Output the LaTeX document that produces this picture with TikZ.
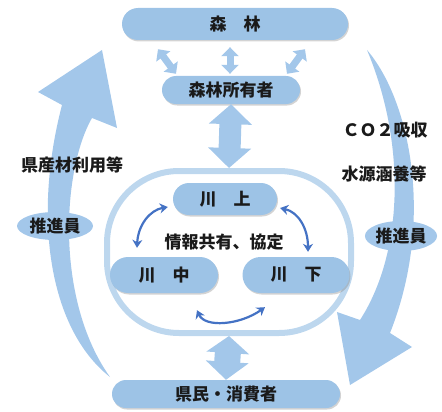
\documentclass[tikz,border=0pt]{standalone}
\usepackage{fontspec}
\newfontfamily\cjk{Noto Sans CJK JP}
\usetikzlibrary{shadows,arrows.meta,shapes.misc,shapes.geometric}
\definecolor{boxblue}{HTML}{9DC3E6}
\definecolor{arrblue}{HTML}{A3C7EA}
\definecolor{ringblue}{HTML}{BDD7EE}
\definecolor{darkblue}{HTML}{4472C4}
\definecolor{txt}{HTML}{1A1A1A}
\begin{document}
\begin{tikzpicture}[x=1pt,y=-1pt,
  jp/.style={font=\cjk\bfseries\fontsize{17}{17}\selectfont, text=txt},
  box/.style={rounded rectangle, fill=boxblue, inner sep=0pt, jp,
    drop shadow={shadow xshift=1pt,shadow yshift=-1.5pt,opacity=0.35}},
  lbl/.style={jp, inner sep=0pt},
  smallarr/.style={arrblue, line width=7pt, {Triangle[length=9pt,width=17pt]}-{Triangle[length=9pt,width=17pt]}},
  darr/.style={darkblue, line width=2.2pt, {Stealth[length=8pt,width=10pt]}-{Stealth[length=8pt,width=10pt]}},
  prom/.style={ellipse, fill=arrblue, inner sep=0pt, jp}
]
\useasboundingbox (0,0) rectangle (442,412);

% big curved arrows
\fill[arrblue] (110,377) .. controls (50,330) and (32,220) .. (62,105) -- (38,92) -- (102,50) -- (117,128) -- (92,118) .. controls (62,170) and (55,300) .. (110,377) -- cycle;
\fill[arrblue] (367,50) .. controls (410,100) and (435,220) .. (390,333) -- (412,347) -- (350,385) -- (337,312) -- (360,320) .. controls (405,250) and (405,140) .. (367,50) -- cycle;

% ring
\node[draw=ringblue, line width=6pt, rounded corners=72pt, minimum width=244pt, minimum height=162pt, inner sep=0pt] (ring) at (229,252) {};

% boxes
\node[box, minimum width=226pt, minimum height=32pt] (forest) at (235,24) {森　林};
\node[box, minimum width=138pt, minimum height=28pt] (owner) at (231,90) {森林所有者};
\node[box, minimum width=104pt, minimum height=32pt] (up) at (225,199) {川　上};
\node[box, minimum width=108pt, minimum height=36pt] (mid) at (164,275) {川　中};
\node[box, minimum width=107pt, minimum height=36pt] (down) at (296,275) {川　下};
\node[box, minimum width=228pt, minimum height=28pt] (citizen) at (226,394) {県民・消費者};

% block double arrows
\draw[arrblue, line width=22pt, {Triangle[length=20pt,width=42pt]}-{Triangle[length=20pt,width=42pt]}] (owner.south) -- (ring.north);
\draw[arrblue, line width=26pt, {Triangle[length=17pt,width=42pt]}-{Triangle[length=18pt,width=42pt]}] (ring.south) -- (citizen.north);
\draw[smallarr] ([shift={(-77,9)}]forest.south) -- ([shift={(-55,-2)}]owner.north);
\draw[smallarr] ([shift={(-5,7)}]forest.south) -- ([shift={(-1,-2)}]owner.north);
\draw[smallarr] ([shift={(70,9)}]forest.south) -- ([shift={(56,-2)}]owner.north);

% dark curved arrows
\draw[darr] ([shift={(-5,8)}]up.west) .. controls (150,210) and (138,225) .. ([shift={(-27,-9)}]mid.north);
\draw[darr] ([shift={(3,9)}]up.east) .. controls (298,212) and (308,228) .. ([shift={(12,-5)}]down.north);
\draw[darr] ([shift={(33,17)}]mid.south) .. controls (205,328) and (240,325) .. ([shift={(-31,14)}]down.south);

% labels
\node[lbl] (center) at (224,242) {情報共有、協定};
\node[lbl] (lt) at (72,165) {県産材利用等};
\node[lbl] (co2) at (385,130) {ＣＯ２吸収};
\node[lbl] (water) at (384,174) {水源涵養等};
\node[prom, minimum width=76pt, minimum height=28pt] (promL) at (55,226) {推進員};
\node[prom, minimum width=70pt, minimum height=30pt] (promR) at (401,236) {推進員};
\end{tikzpicture}
\end{document}
